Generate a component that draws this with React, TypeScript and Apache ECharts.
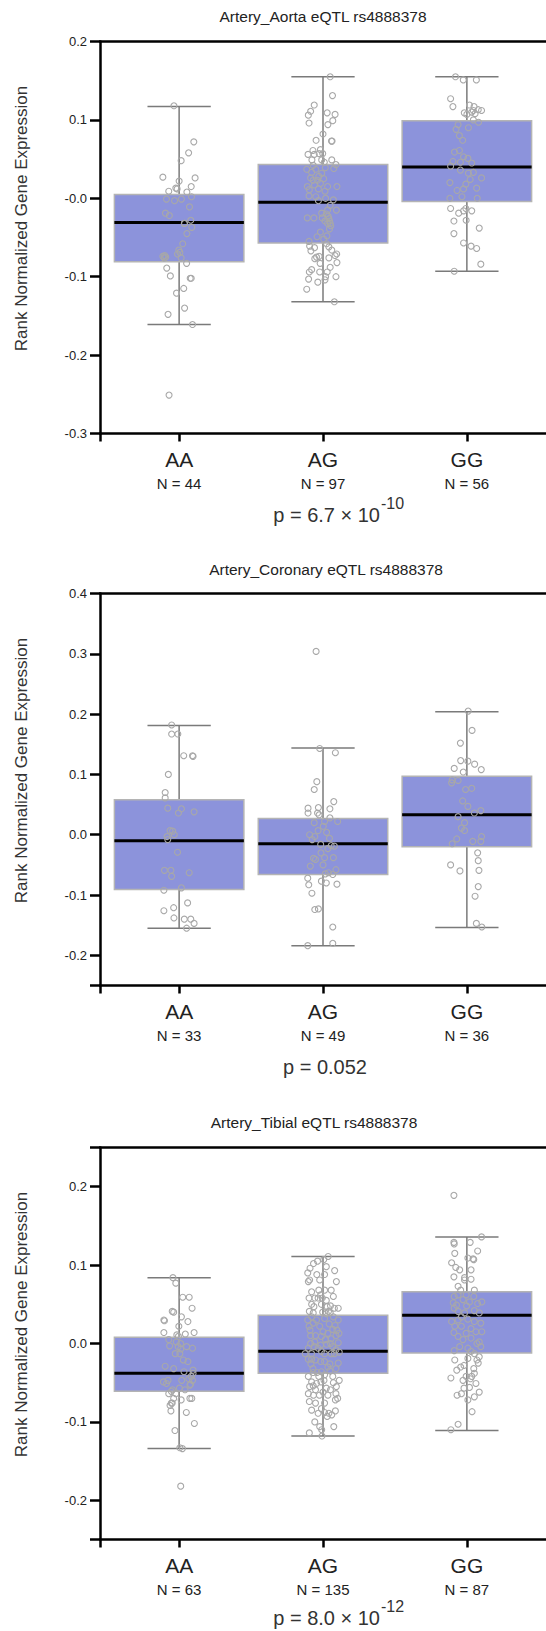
import React, { useEffect, useRef } from 'react';
import * as echarts from 'echarts';

// ---------------- data ----------------
const genotypes = ['AA', 'AG', 'GG'];
const titles = ['Artery_Aorta eQTL rs4888378', 'Artery_Coronary eQTL rs4888378', 'Artery_Tibial eQTL rs4888378'];
const yAxisName = 'Rank Normalized Gene Expression';

const aortaN = [44, 97, 56];
const coronaryN = [33, 49, 36];
const tibialN = [63, 135, 87];

const pMain = ['p = 6.7 × 10', 'p = 0.052', 'p = 8.0 × 10'];
const pExp = ['-10', '', '-12'];

// [min whisker, q1, median, q3, max whisker]
const aortaBox = [[-0.161, -0.081, -0.031, 0.005, 0.117], [-0.132, -0.057, -0.005, 0.043, 0.155], [-0.093, -0.004, 0.040, 0.099, 0.155]];
const coronaryBox = [[-0.155, -0.091, -0.010, 0.058, 0.181], [-0.184, -0.066, -0.015, 0.027, 0.144], [-0.154, -0.020, 0.033, 0.097, 0.204]];
const tibialBox = [[-0.134, -0.061, -0.038, 0.008, 0.084], [-0.118, -0.038, -0.010, 0.036, 0.111], [-0.111, -0.012, 0.036, 0.066, 0.136]];

// y ranges and ticks
const aortaY = [-0.3, 0.2];
const aortaTicks = [-0.3, -0.2, -0.1, 0, 0.1, 0.2];
const aortaLabelVals = [-0.3, -0.2, -0.1, 0, 0.1, 0.2];
const aortaLabels = ['-0.3', '-0.2', '-0.1', '-0.0', '0.1', '0.2'];
const coronaryY = [-0.25, 0.4];
const coronaryTicks = [-0.25, -0.2, -0.1, 0, 0.1, 0.2, 0.3, 0.4];
const coronaryLabelVals = [-0.2, -0.1, 0, 0.1, 0.2, 0.3, 0.4];
const coronaryLabels = ['-0.2', '-0.1', '0.0', '0.1', '0.2', '0.3', '0.4'];
const tibialY = [-0.25, 0.25];
const tibialTicks = [-0.25, -0.2, -0.1, 0, 0.1, 0.2, 0.25];
const tibialLabelVals = [-0.2, -0.1, 0, 0.1, 0.2];
const tibialLabels = ['-0.2', '-0.1', '0.0', '0.1', '0.2'];

// samples: [jitter offset, value]
const aortaAA = [
  [-0.036, 0.118], [0.102, 0.072], [0.066, 0.058], [0.014, 0.048], [-0.113, 0.027], [0.000, 0.022], [0.111, 0.026], [0.084, 0.015], [-0.072, 0.009], [-0.023, 0.013],
  [0.054, 0.008], [-0.088, -0.001], [-0.032, -0.003], [0.016, -0.001], [0.086, 0.002], [0.072, -0.011], [-0.095, -0.019], [-0.068, -0.022], [0.036, -0.032], [0.081, -0.028],
  [0.088, -0.037], [0.054, -0.045], [0.025, -0.058], [-0.002, -0.066], [-0.011, -0.071], [-0.100, -0.073], [-0.104, -0.076], [-0.093, -0.075], [0.014, -0.076], [0.052, -0.083],
  [-0.086, -0.089], [-0.061, -0.099], [0.077, -0.102], [0.084, -0.102], [-0.018, -0.121], [0.032, -0.115], [0.038, -0.140], [-0.077, -0.148], [0.093, -0.161], [-0.070, -0.251],
  [-0.014, 0.012], [0.005, -0.069], [-0.113, -0.074], [0.038, -0.032],
];
const aortaAG = [
  [0.050, 0.155], [0.066, 0.131], [-0.061, 0.119], [-0.086, 0.111], [-0.102, 0.106], [-0.097, 0.096], [0.029, 0.109], [0.084, 0.107], [0.068, 0.099], [0.034, 0.094],
  [-0.048, 0.074], [-0.018, 0.062], [-0.070, 0.061], [-0.104, 0.056], [-0.061, 0.056], [-0.027, 0.057], [-0.002, 0.057], [0.059, 0.073], [0.063, 0.073], [-0.009, 0.049],
  [0.061, 0.049], [0.090, 0.043], [-0.113, 0.037], [-0.050, 0.037], [0.016, 0.039], [0.075, 0.038], [-0.079, 0.033], [-0.029, 0.028], [0.005, 0.025], [-0.068, 0.023],
  [-0.038, 0.023], [-0.109, 0.015], [-0.095, 0.011], [-0.059, 0.017], [-0.032, 0.012], [0.014, 0.009], [0.097, 0.015], [-0.032, -0.003], [0.018, 0.000], [0.072, -0.002],
  [0.093, -0.015], [-0.109, -0.025], [-0.063, -0.025], [-0.009, -0.019], [0.023, -0.020], [0.036, -0.023], [0.045, -0.029], [0.032, -0.032], [0.054, -0.035], [-0.005, -0.025],
  [0.045, -0.039], [-0.041, -0.049], [0.027, -0.048], [-0.097, -0.055], [0.025, -0.058], [-0.093, -0.061], [0.041, -0.062], [-0.084, -0.067], [-0.045, -0.075], [-0.027, -0.074],
  [-0.057, -0.077], [0.095, -0.071], [0.084, -0.073], [0.041, -0.076], [-0.020, -0.083], [0.097, -0.082], [-0.079, -0.091], [-0.095, -0.094], [0.029, -0.094], [0.018, -0.100],
  [0.014, -0.104], [-0.100, -0.103], [-0.036, -0.107], [0.090, -0.100], [-0.113, -0.116], [0.079, -0.132],
  [0.041, -0.026], [0.050, -0.032], [0.014, -0.029], [0.032, -0.015], [-0.018, 0.019], [-0.086, 0.026], [-0.009, 0.032], [0.009, 0.046], [-0.068, 0.042], [0.050, -0.009],
  [-0.097, 0.003], [-0.018, -0.043], [0.005, -0.052], [-0.059, -0.063], [0.061, -0.066], [-0.023, -0.094], [0.050, -0.088], [-0.077, 0.049], [0.032, 0.015], [-0.050, 0.002], [0.000, 0.082],
];
const aortaGG = [
  [-0.079, 0.155], [-0.025, 0.151], [0.066, 0.151], [-0.113, 0.127], [-0.097, 0.117], [-0.018, 0.109], [0.018, 0.119], [0.050, 0.117], [0.079, 0.113], [0.102, 0.112],
  [0.057, 0.108], [0.034, 0.110], [0.081, 0.097], [0.045, 0.100], [0.000, 0.107], [-0.061, 0.094], [-0.075, 0.088], [0.011, 0.090], [-0.052, 0.080], [-0.029, 0.074],
  [-0.086, 0.059], [-0.052, 0.061], [-0.023, 0.053], [0.007, 0.051], [-0.097, 0.047], [-0.045, 0.046], [0.034, 0.045], [-0.113, 0.041], [0.045, 0.033], [0.023, 0.024],
  [0.102, 0.026], [-0.118, 0.020], [-0.007, 0.018], [-0.068, 0.010], [-0.023, 0.012], [0.068, 0.013], [-0.118, 0.000], [0.072, -0.000], [-0.113, -0.013], [-0.057, -0.019],
  [-0.023, -0.016], [-0.007, -0.013], [0.034, -0.016], [-0.005, -0.028], [-0.090, -0.029], [0.086, -0.038], [-0.090, -0.045], [-0.023, -0.057], [0.029, -0.061], [0.068, -0.064],
  [0.097, -0.084], [-0.088, -0.093], [-0.045, 0.036], [0.011, 0.032], [-0.034, 0.002], [0.045, 0.112],
];

const coronaryAA = [
  [-0.052, 0.182], [-0.052, 0.167], [-0.009, 0.167], [0.032, 0.131], [0.093, 0.131], [0.097, 0.130], [-0.075, 0.100], [-0.097, 0.070], [-0.097, 0.061], [-0.079, 0.044],
  [0.016, 0.043], [-0.005, 0.036], [0.104, 0.038], [-0.063, 0.007], [-0.034, 0.000], [-0.079, -0.008], [-0.011, -0.029], [-0.102, -0.059], [-0.057, -0.059], [-0.052, -0.069],
  [0.070, -0.063], [-0.106, -0.092], [0.016, -0.088], [0.059, -0.113], [-0.106, -0.126], [-0.038, -0.121], [-0.036, -0.138], [0.036, -0.140], [0.081, -0.140], [0.104, -0.147],
  [0.052, -0.155], [-0.084, -0.003], [-0.045, 0.006],
];
const coronaryAG = [
  [-0.048, 0.304], [-0.023, 0.143], [0.086, 0.136], [-0.043, 0.088], [-0.061, 0.075], [-0.104, 0.044], [-0.104, 0.036], [-0.032, 0.045], [0.048, 0.043], [0.075, 0.055],
  [-0.027, 0.033], [0.048, 0.028], [0.102, 0.022], [-0.061, 0.020], [-0.034, 0.007], [0.025, 0.004], [-0.093, 0.000], [0.045, -0.006], [-0.016, -0.016], [0.034, -0.023],
  [0.072, -0.038], [0.011, -0.038], [-0.052, -0.041], [0.016, -0.065], [0.090, -0.058], [0.068, -0.066], [-0.106, -0.072], [-0.011, -0.077], [0.023, -0.080], [0.097, -0.082],
  [-0.099, -0.083], [-0.077, -0.097], [-0.057, -0.124], [-0.032, -0.123], [0.068, -0.153], [-0.106, -0.184], [0.068, -0.180],
  [-0.075, -0.008], [0.002, 0.014], [-0.057, -0.003], [0.057, -0.018], [-0.014, -0.030], [-0.088, -0.052], [0.038, -0.063], [-0.038, 0.036], [0.079, -0.019], [0.011, 0.022],
  [-0.066, -0.039], [0.000, -0.050],
];
const coronaryGG = [
  [0.009, 0.205], [0.036, 0.173], [-0.045, 0.152], [-0.043, 0.123], [0.007, 0.122], [0.054, 0.117], [0.100, 0.108], [-0.088, 0.110], [-0.025, 0.104], [-0.102, 0.091],
  [-0.061, 0.090], [-0.106, 0.086], [-0.009, 0.075], [0.034, 0.077], [-0.029, 0.056], [0.097, 0.040], [0.052, 0.036], [-0.061, 0.030], [-0.016, 0.020], [-0.038, 0.011],
  [-0.016, 0.007], [0.102, -0.003], [-0.070, -0.007], [0.041, -0.011], [0.097, -0.011], [-0.102, -0.015], [0.075, -0.030], [0.079, -0.043], [-0.113, -0.050], [-0.048, -0.060],
  [0.084, -0.059], [0.079, -0.086], [0.057, -0.102], [0.066, -0.147], [0.104, -0.153], [0.007, 0.047],
];

const tibialAA = [
  [-0.043, 0.084], [-0.023, 0.077], [0.025, 0.059], [0.070, 0.059], [0.090, 0.045], [-0.048, 0.041], [-0.038, 0.040], [-0.106, 0.030], [-0.102, 0.029], [0.061, 0.028],
  [0.016, 0.034], [-0.002, 0.022], [-0.106, 0.014], [-0.016, 0.011], [0.043, 0.012], [0.104, 0.014], [-0.072, 0.005], [-0.020, 0.002], [0.011, 0.000], [-0.007, -0.004],
  [-0.066, -0.003], [0.093, -0.006], [0.011, -0.007], [0.005, -0.013], [0.061, -0.023], [-0.097, -0.029], [-0.038, -0.032], [0.034, -0.036], [0.097, -0.038], [0.084, -0.042],
  [0.093, -0.047], [0.075, -0.053], [0.068, -0.045], [-0.109, -0.049], [-0.077, -0.047], [-0.045, -0.059], [-0.054, -0.061], [0.079, -0.052], [0.018, -0.047], [-0.023, -0.064],
  [0.014, -0.072], [0.075, -0.070], [0.088, -0.070], [-0.054, -0.076], [-0.063, -0.079], [-0.048, -0.076], [-0.057, -0.086], [0.050, -0.088], [0.106, -0.102], [-0.029, -0.111],
  [0.005, -0.133], [0.023, -0.134], [0.011, -0.182],
  [0.029, -0.021], [-0.027, -0.013], [0.052, -0.004], [-0.088, -0.051], [0.002, -0.057], [0.041, -0.059], [-0.038, -0.070], [0.097, -0.034], [-0.072, -0.064], [-0.005, 0.009],
];
const tibialAG = [
  [0.036, 0.111], [0.005, 0.107], [-0.038, 0.105], [-0.066, 0.102], [-0.090, 0.096], [-0.106, 0.090], [-0.043, 0.088], [0.011, 0.088], [0.081, 0.093], [-0.102, 0.079],
  [-0.093, 0.081], [0.093, 0.079], [-0.029, 0.068], [-0.016, 0.062], [-0.057, 0.058], [-0.097, 0.058], [-0.034, 0.058], [-0.005, 0.058], [0.023, 0.055], [-0.079, 0.050],
  [-0.063, 0.047], [0.029, 0.047], [0.052, 0.048], [0.079, 0.045], [0.106, 0.045], [-0.011, 0.050], [-0.095, 0.041], [-0.068, 0.039], [-0.079, 0.034], [0.050, 0.039],
  [0.072, 0.034], [0.023, 0.038], [-0.002, 0.040], [-0.097, 0.022], [-0.068, 0.026], [-0.023, 0.022], [0.043, 0.025], [0.084, 0.023], [0.097, 0.017], [0.111, 0.013],
  [0.068, 0.018], [-0.086, 0.010], [-0.052, 0.010], [-0.011, 0.009], [0.057, 0.006], [0.106, 0.001], [0.016, 0.005], [0.090, 0.010], [0.052, 0.000], [-0.086, 0.000],
  [-0.016, -0.002], [0.025, -0.001], [0.068, -0.004], [-0.061, -0.004], [-0.034, -0.006], [-0.124, -0.013], [-0.079, -0.013], [0.011, -0.013], [0.057, -0.013], [0.079, -0.013],
  [0.113, -0.011], [-0.102, -0.020], [-0.079, -0.020], [-0.052, -0.021], [-0.016, -0.023], [0.011, -0.023], [0.106, -0.025], [0.048, -0.026], [-0.070, -0.032], [-0.068, -0.037],
  [-0.041, -0.037], [-0.011, -0.036], [0.048, -0.035], [-0.079, -0.049], [-0.045, -0.051], [-0.014, -0.049], [0.007, -0.047], [0.072, -0.050], [0.093, -0.055], [-0.093, -0.055],
  [-0.068, -0.054], [0.023, -0.057], [-0.102, -0.064], [-0.066, -0.066], [-0.025, -0.066], [0.034, -0.066], [0.090, -0.064], [-0.095, -0.074], [-0.052, -0.076], [0.011, -0.076],
  [0.086, -0.072], [-0.011, -0.083], [0.011, -0.088], [0.041, -0.089], [0.061, -0.091], [0.086, -0.086], [0.029, -0.093], [-0.057, -0.100], [-0.023, -0.106], [0.075, -0.106],
  [-0.095, -0.114], [-0.009, -0.110], [-0.007, -0.118],
  [-0.106, 0.030], [-0.045, 0.030], [0.011, 0.032], [0.106, 0.030], [-0.090, 0.017], [0.000, 0.015], [0.034, 0.013], [-0.057, 0.002], [-0.102, -0.006], [0.090, -0.008],
  [-0.011, -0.010], [-0.084, -0.026], [0.034, -0.030], [0.090, -0.032], [-0.029, -0.042], [0.011, -0.040], [-0.102, -0.042], [0.068, -0.042], [-0.052, -0.059], [0.000, -0.062],
  [0.052, -0.059], [-0.079, -0.085], [-0.034, -0.089], [0.113, -0.047], [0.102, -0.070], [0.023, 0.098], [-0.023, 0.081], [0.057, 0.068], [0.011, 0.068], [-0.079, 0.066],
  [0.072, 0.060], [0.038, 0.041],
];
const tibialGG = [
  [-0.090, 0.189], [0.102, 0.136], [-0.090, 0.129], [-0.088, 0.127], [0.023, 0.129], [0.075, 0.118], [-0.084, 0.115], [0.007, 0.109], [0.048, 0.107], [0.043, 0.108],
  [-0.106, 0.103], [-0.077, 0.097], [-0.050, 0.094], [-0.090, 0.085], [-0.016, 0.084], [0.029, 0.082], [-0.061, 0.073], [-0.043, 0.068], [0.052, 0.068], [-0.088, 0.060],
  [-0.061, 0.062], [-0.005, 0.062], [0.048, 0.060], [-0.095, 0.052], [-0.072, 0.049], [-0.002, 0.048], [0.104, 0.053], [0.052, 0.042], [-0.088, 0.045], [-0.038, 0.034],
  [-0.106, 0.028], [-0.061, 0.030], [0.007, 0.031], [0.052, 0.028], [0.097, 0.026], [-0.038, 0.022], [0.029, 0.019], [-0.090, 0.014], [0.104, 0.015], [0.070, 0.000],
  [0.086, 0.002], [-0.088, -0.009], [0.029, -0.010], [0.052, -0.013], [0.070, -0.021], [0.079, -0.025], [-0.020, -0.028], [-0.043, -0.030], [-0.070, -0.034], [0.052, -0.038],
  [-0.005, -0.042], [0.025, -0.045], [0.034, -0.042], [-0.111, -0.044], [-0.020, -0.057], [0.018, -0.056], [0.086, -0.062], [-0.068, -0.066], [0.007, -0.072], [0.036, -0.087],
  [-0.061, -0.103], [-0.111, -0.110],
  [-0.027, 0.056], [0.018, 0.053], [0.075, 0.051], [-0.061, 0.041], [-0.016, 0.039], [0.086, 0.039], [-0.084, 0.022], [0.063, 0.015], [-0.005, 0.013], [-0.061, 0.009],
  [0.029, 0.007], [-0.027, 0.005], [0.097, -0.004], [0.007, -0.006], [-0.050, -0.004], [0.086, -0.017], [0.007, -0.019], [-0.084, -0.021], [0.048, -0.032], [-0.027, -0.047],
  [0.063, -0.051], [-0.038, -0.064], [0.052, -0.068], [-0.016, 0.081], [0.029, 0.094],
];

// ---------------- layout / style ----------------
const W = 546;
const H = 1631;
const FONT = '"Liberation Sans", Arial, Helvetica, sans-serif';
const gridTops = [41.5, 593.5, 1147.5];
const gridH = 392;
const gridLeft = 100;
const gridW = 457;
const xMin = 0.45;
const xMax = 3.55;
const titleX = [323, 326, 314];
const titleY = [16, 569.3, 1122.7];
const pAnchorX = [380, 325, 380];
const pOffsetY = [81.5, 81.5, 78.5];
const boxWidth = 0.9;
const capWidth = 0.44;
const BOX_FILL = '#8c93db';
const TXT = '#222';

const panels = [
  { n: aortaN, box: aortaBox, pts: [aortaAA, aortaAG, aortaGG], y: aortaY, ticks: aortaTicks, lv: aortaLabelVals, lb: aortaLabels },
  { n: coronaryN, box: coronaryBox, pts: [coronaryAA, coronaryAG, coronaryGG], y: coronaryY, ticks: coronaryTicks, lv: coronaryLabelVals, lb: coronaryLabels },
  { n: tibialN, box: tibialBox, pts: [tibialAA, tibialAG, tibialGG], y: tibialY, ticks: tibialTicks, lv: tibialLabelVals, lb: tibialLabels },
];

function renderBox(params: any, api: any) {
  const x = api.value(0);
  const lo = api.coord([x, api.value(1)]);
  const q1 = api.coord([x, api.value(2)]);
  const med = api.coord([x, api.value(3)]);
  const q3 = api.coord([x, api.value(4)]);
  const hi = api.coord([x, api.value(5)]);
  const bw = api.size([boxWidth, 0])[0];
  const cw = api.size([capWidth, 0])[0];
  const whisk = { stroke: '#7a7a7a', lineWidth: 1.5 };
  return {
    type: 'group',
    children: [
      { type: 'line', shape: { x1: lo[0], y1: lo[1], x2: hi[0], y2: hi[1] }, style: whisk },
      { type: 'line', shape: { x1: lo[0] - cw / 2, y1: lo[1], x2: lo[0] + cw / 2, y2: lo[1] }, style: whisk },
      { type: 'line', shape: { x1: hi[0] - cw / 2, y1: hi[1], x2: hi[0] + cw / 2, y2: hi[1] }, style: whisk },
      {
        type: 'rect',
        shape: { x: q3[0] - bw / 2, y: q3[1], width: bw, height: q1[1] - q3[1] },
        style: { fill: BOX_FILL, stroke: '#b4b4b4', lineWidth: 1.5 },
      },
      { type: 'line', shape: { x1: med[0] - bw / 2, y1: med[1], x2: med[0] + bw / 2, y2: med[1] }, style: { stroke: '#000', lineWidth: 3 } },
    ],
  };
}

function buildOption() {
  const grid: any[] = [];
  const xAxis: any[] = [];
  const yAxis: any[] = [];
  const series: any[] = [];
  const graphic: any[] = [];
  const axisLine = { show: true, onZero: false, lineStyle: { color: '#000', width: 2.5 } };

  panels.forEach((p, i) => {
    grid.push({ left: gridLeft, top: gridTops[i], width: gridW, height: gridH });
    xAxis.push({
      gridIndex: i, type: 'value', min: xMin, max: xMax, position: 'bottom',
      axisLine,
      axisTick: { show: true, customValues: [xMin, 1, 2, 3], length: 8, lineStyle: { color: '#000', width: 2.5 } },
      axisLabel: {
        show: true, customValues: [1, 2, 3], margin: 14,
        formatter: (v: number) => {
          const k = Math.round(v) - 1;
          return `{g|${genotypes[k]}}\n{n|N = ${p.n[k]}}`;
        },
        rich: {
          g: { fontSize: 21, lineHeight: 24, color: TXT, fontFamily: FONT },
          n: { fontSize: 15, lineHeight: 24, color: TXT, fontFamily: FONT },
        },
      },
      splitLine: { show: false },
    });
    xAxis.push({
      gridIndex: i, type: 'value', min: xMin, max: xMax, position: 'top',
      axisLine, axisTick: { show: false }, axisLabel: { show: false }, splitLine: { show: false },
    });
    yAxis.push({
      gridIndex: i, type: 'value', min: p.y[0], max: p.y[1],
      axisLine,
      axisTick: { show: true, customValues: p.ticks, length: 10, lineStyle: { color: '#000', width: 2.5 } },
      axisLabel: {
        show: true, customValues: p.lv, margin: 13, fontSize: 13, color: TXT, fontFamily: FONT,
        formatter: (v: number) => {
          const k = p.lv.findIndex((t) => Math.abs(t - v) < 1e-6);
          return k >= 0 ? p.lb[k] : '';
        },
      },
      splitLine: { show: false },
    });
    series.push({
      type: 'custom', xAxisIndex: 2 * i, yAxisIndex: i, z: 2, silent: true,
      data: p.box.map((b, j) => [j + 1, ...b]),
      encode: { x: 0, y: [1, 2, 3, 4, 5] },
      renderItem: renderBox,
    });
    const pts: number[][] = [];
    p.pts.forEach((arr, j) => arr.forEach(([dx, v]) => pts.push([j + 1 + dx, v])));
    series.push({
      type: 'scatter', xAxisIndex: 2 * i, yAxisIndex: i, z: 3, silent: true,
      data: pts, symbol: 'circle', symbolSize: 6,
      itemStyle: { color: 'rgba(255,255,255,0)', borderColor: '#a8a8a8', borderWidth: 1.1, opacity: 1 },
    });

    const bottom = gridTops[i] + gridH;
    graphic.push({
      type: 'text', x: titleX[i], y: titleY[i],
      style: { text: titles[i], fill: TXT, fontSize: 15.5, fontFamily: FONT, align: 'center', verticalAlign: 'middle' },
    });
    graphic.push({
      type: 'text', x: 21.5, y: gridTops[i] + gridH / 2 - 19, rotation: Math.PI / 2,
      style: { text: yAxisName, fill: '#333', fontSize: 17, fontFamily: FONT, align: 'center', verticalAlign: 'middle' },
    });
    const py = bottom + pOffsetY[i];
    if (pExp[i]) {
      graphic.push({
        type: 'text', x: pAnchorX[i], y: py,
        style: { text: pMain[i], fill: '#333', fontSize: 20, fontFamily: FONT, align: 'right', verticalAlign: 'middle' },
      });
      graphic.push({
        type: 'text', x: pAnchorX[i] + 1, y: py - 11.5,
        style: { text: pExp[i], fill: '#333', fontSize: 16, fontFamily: FONT, align: 'left', verticalAlign: 'middle' },
      });
    } else {
      graphic.push({
        type: 'text', x: pAnchorX[i], y: py,
        style: { text: pMain[i], fill: '#333', fontSize: 20, fontFamily: FONT, align: 'center', verticalAlign: 'middle' },
      });
    }
  });

  return { animation: false, backgroundColor: '#fff', grid, xAxis, yAxis, series, graphic };
}

export default function App() {
  const ref = useRef<HTMLDivElement>(null);
  useEffect(() => {
    if (!ref.current) return;
    const chart = echarts.init(ref.current, undefined, { renderer: 'svg' });
    chart.setOption(buildOption() as any);
    return () => chart.dispose();
  }, []);
  return <div ref={ref} style={{ position: 'absolute', left: 0, top: 0, width: W, height: H, overflow: 'hidden' }} />;
}
